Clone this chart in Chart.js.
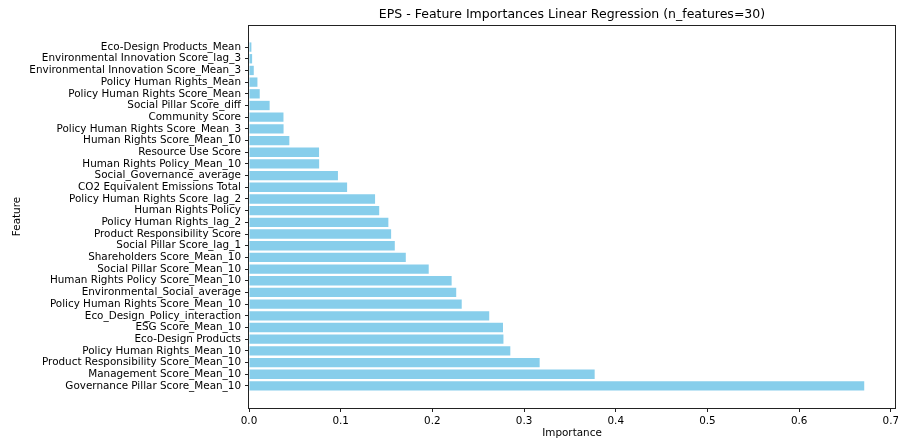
<!DOCTYPE html>
<html>
<head>
<meta charset="utf-8">
<script src="https://cdn.jsdelivr.net/npm/chart.js@4.4.1/dist/chart.umd.min.js"></script>
<style>
  html, body { margin: 0; padding: 0; background: #fff; }
  #wrap { width: 898px; height: 445px; }
</style>
</head>
<body>
<div id="wrap"><canvas id="fiChart"></canvas></div>
<script>
// features, bottom bar first (largest importance)
const features = [
    'Governance Pillar Score_Mean_10',
    'Management Score_Mean_10',
    'Product Responsibility Score_Mean_10',
    'Policy Human Rights_Mean_10',
    'Eco-Design Products',
    'ESG Score_Mean_10',
    'Eco_Design_Policy_interaction',
    'Policy Human Rights Score_Mean_10',
    'Environmental_Social_average',
    'Human Rights Policy Score_Mean_10',
    'Social Pillar Score_Mean_10',
    'Shareholders Score_Mean_10',
    'Social Pillar Score_lag_1',
    'Product Responsibility Score',
    'Policy Human Rights_lag_2',
    'Human Rights Policy',
    'Policy Human Rights Score_lag_2',
    'CO2 Equivalent Emissions Total',
    'Social_Governance_average',
    'Human Rights Policy_Mean_10',
    'Resource Use Score',
    'Human Rights Score_Mean_10',
    'Policy Human Rights Score_Mean_3',
    'Community Score',
    'Social Pillar Score_diff',
    'Policy Human Rights Score_Mean',
    'Policy Human Rights_Mean',
    'Environmental Innovation Score_Mean_3',
    'Environmental Innovation Score_lag_3',
    'Eco-Design Products_Mean'
];

const importances = [
    0.671, 0.377, 0.317, 0.285, 0.2775, 0.277, 0.262, 0.232, 0.226, 0.221,
    0.196, 0.171, 0.159, 0.155, 0.152, 0.142, 0.1375, 0.107, 0.097, 0.0765,
    0.0764, 0.044, 0.0377, 0.0376, 0.0225, 0.0117, 0.0092, 0.0052, 0.0034, 0.0026
];

const xTicks = [0, 0.1, 0.2, 0.3, 0.4, 0.5, 0.6, 0.7];

const FONT = "'DejaVu Sans', sans-serif";

// matplotlib style box around the plot area
const boxPlugin = {
    id: 'box',
    afterDraw(chart) {
        const { ctx, chartArea: a } = chart;
        ctx.save();
        ctx.strokeStyle = '#222';
        ctx.lineWidth = 1;
        ctx.strokeRect(Math.round(a.left) - 0.5, Math.round(a.top) + 0.5,
            Math.round(a.right - a.left) + 1, Math.round(a.bottom - a.top));
        ctx.restore();
    }
};

const n = features.length;
const xMax = Math.max(...importances) * 1.05;

new Chart(document.getElementById('fiChart'), {
    type: 'bar',
    data: {
        datasets: [{
            data: importances.map((v, i) => ({ x: v, y: i })),
            backgroundColor: '#87CEEB',
            borderWidth: 0,
            barPercentage: 0.8,
            categoryPercentage: 1.0
        }]
    },
    options: {
        indexAxis: 'y',
        responsive: true,
        maintainAspectRatio: false,
        animation: false,
        layout: { padding: { left: 0, right: 3, top: 0, bottom: 0 } },
        plugins: {
            legend: { display: false },
            tooltip: { enabled: false },
            title: {
                display: true,
                fullSize: false,
                text: 'EPS - Feature Importances Linear Regression (n_features=30)',
                color: '#000',
                font: { family: FONT, size: 12.5, weight: 'normal' },
                padding: { top: 7, bottom: 3 }
            }
        },
        scales: {
            x: {
                type: 'linear',
                min: 0,
                max: xMax,
                afterBuildTicks: (s) => { s.ticks = xTicks.map(v => ({ value: v })); },
                afterFit: (s) => { s.height = 37; s.paddingRight = 0; s.paddingLeft = 0; },
                grid: { drawOnChartArea: false, drawTicks: true, tickLength: 4, color: '#222' },
                border: { display: false },
                ticks: {
                    color: '#000',
                    padding: 3,
                    maxRotation: 0,
                    font: { family: FONT, size: 10.4 },
                    callback: (v) => v.toFixed(1)
                },
                title: {
                    display: true,
                    text: 'Importance',
                    color: '#000',
                    font: { family: FONT, size: 10.4 },
                    padding: 5
                }
            },
            y: {
                type: 'linear',
                offset: false,
                min: -1.89,
                max: n - 1 + 1.89,
                afterBuildTicks: (s) => { s.ticks = features.map((f, i) => ({ value: i })); },
                afterFit: (s) => { s.width = 249; s.paddingTop = 0; s.paddingBottom = 0; },
                grid: { drawOnChartArea: false, drawTicks: true, tickLength: 4, color: '#222', offset: false },
                border: { display: false },
                ticks: {
                    color: '#000',
                    padding: 4,
                    autoSkip: false,
                    font: { family: FONT, size: 10.4 },
                    callback: (v) => features[v]
                },
                title: {
                    display: true,
                    text: 'Feature',
                    color: '#000',
                    font: { family: FONT, size: 10.4 },
                    padding: 11
                }
            }
        }
    },
    plugins: [boxPlugin]
});
</script>
</body>
</html>
